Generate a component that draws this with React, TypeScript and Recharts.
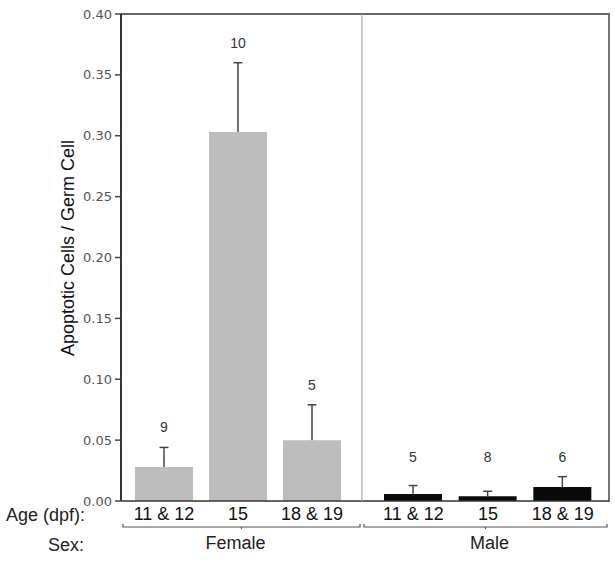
import { BarChart, Bar, XAxis, YAxis, LabelList } from 'recharts';

const ages = ['11 & 12', '15', '18 & 19'];
const femaleMean = [0.028, 0.303, 0.05];
const femaleErr = [0.016, 0.057, 0.029];
const femaleN = [9, 10, 5];
const maleMean = [0.0057, 0.004, 0.0115];
const maleErr = [0.007, 0.004, 0.0085];
const maleN = [5, 8, 6];
const yTicks = [0, 0.05, 0.1, 0.15, 0.2, 0.25, 0.3, 0.35, 0.4];

const FONT = '"Liberation Sans", Arial, sans-serif';
const W = 615;
const H = 562;
const TOP = 14;
const X_AXIS_H = 61;
const PLOT_BOTTOM = H - X_AXIS_H;
const PLOT_LEFT = 121;
const SPLIT = 361;
const RIGHT_MARGIN = 6;
const PLOT_RIGHT = W - RIGHT_MARGIN;

const female = ages.map((a, i) => ({ age: a, mean: femaleMean[i], err: femaleErr[i], n: femaleN[i] }));
const male = ages.map((a, i) => ({ age: a, mean: maleMean[i], err: maleErr[i], n: maleN[i] }));

// whisker drawn on top of the mean bar (upper half only)
const ErrShape = (p: any) => {
  const { x, y, width, height } = p;
  const cx = x + width / 2;
  return (
    <g>
      <line x1={cx} x2={cx} y1={y + height} y2={y} stroke="#444" strokeWidth={1.5} />
      <line x1={cx - 4.5} x2={cx + 4.5} y1={y} y2={y} stroke="#444" strokeWidth={1.5} />
    </g>
  );
};

const CountLabel = (p: any) => {
  const { x, y, width, value } = p;
  const by = Math.min(y - 15, PLOT_BOTTOM - 39);
  return (
    <text x={x + width / 2} y={by} textAnchor="middle" fontSize={14} fontFamily={FONT} fill="#333">
      {value}
    </text>
  );
};

const groupLabel = (name: string, shift: number, titles: boolean) => (props: any) => {
  const vb = props.viewBox || {};
  const x1 = vb.x + 2;
  const x2 = vb.x + vb.width - 2;
  const by = PLOT_BOTTOM + 26;
  const mid = (x1 + x2) / 2;
  return (
    <g>
      <path
        d={`M${x1},${by - 3} L${x1},${by} L${x2},${by} L${x2},${by - 3}`}
        fill="none"
        stroke="#555"
        strokeWidth={1.2}
      />
      <line x1={mid} x2={mid} y1={by} y2={by + 2} stroke="#555" strokeWidth={1.2} />
      <text x={mid + shift} y={PLOT_BOTTOM + 48} textAnchor="middle" fontSize={18} fontFamily={FONT} fill="#222">
        {name}
      </text>
      {titles && (
        <>
          <text x={85} y={PLOT_BOTTOM + 20} textAnchor="end" fontSize={18} fontFamily={FONT} fill="#222">
            Age (dpf):
          </text>
          <text x={84} y={PLOT_BOTTOM + 50} textAnchor="end" fontSize={18} fontFamily={FONT} fill="#222">
            Sex:
          </text>
        </>
      )}
    </g>
  );
};

const yLabel = () => (
  <text transform={`translate(74,248) rotate(-90)`} textAnchor="middle" fontSize={18} fontFamily={FONT} fill="#111">
    Apoptotic Cells / Germ Cell
  </text>
);

const xTick = { fontSize: 18, fontFamily: FONT, fill: '#111' };

export default function App() {
  return (
    <div style={{ position: 'absolute', left: 0, top: 0, width: W, height: H, background: '#fff' }}>
      {/* frame: top edge and right edge of the plot area */}
      <div
        style={{
          position: 'absolute',
          left: PLOT_LEFT,
          top: TOP - 1,
          width: PLOT_RIGHT - PLOT_LEFT - 1,
          height: PLOT_BOTTOM - TOP,
          borderTop: '2px solid #666',
          borderRight: '2px solid #777',
          boxSizing: 'content-box',
        }}
      />
      <div style={{ position: 'absolute', left: 0, top: 0 }}>
        <BarChart width={SPLIT + 1} height={H} data={female} margin={{ top: TOP, right: 0, bottom: 0, left: 0 }}>
          <XAxis
            dataKey="age"
            height={X_AXIS_H}
            padding={{ left: 6, right: 13 }}
            tickLine={false}
            tickSize={6}
            tickMargin={0}
            tick={xTick}
            axisLine={{ stroke: '#333', strokeWidth: 1.5 }}
            label={groupLabel('Female', -6, true)}
          />
          <YAxis
            width={PLOT_LEFT}
            domain={[0, 0.4]}
            ticks={yTicks}
            interval={0}
            tickFormatter={(v: number) => v.toFixed(2)}
            tick={{ fontSize: 13, fontFamily: '"DejaVu Sans", sans-serif', fill: '#555' }}
            tickLine={{ stroke: '#444', strokeWidth: 1.5 }}
            tickSize={6}
            tickMargin={3}
            axisLine={{ stroke: '#333', strokeWidth: 2 }}
            label={yLabel}
          />
          <Bar dataKey="mean" stackId="s" fill="#bdbdbd" barSize={58} isAnimationActive={false} />
          <Bar dataKey="err" stackId="s" barSize={58} shape={ErrShape} isAnimationActive={false}>
            <LabelList dataKey="n" content={CountLabel} />
          </Bar>
        </BarChart>
      </div>
      <div style={{ position: 'absolute', left: SPLIT, top: 0 }}>
        <BarChart width={W - SPLIT} height={H} data={male} margin={{ top: TOP, right: RIGHT_MARGIN, bottom: 0, left: 0 }}>
          <XAxis
            dataKey="age"
            height={X_AXIS_H}
            padding={{ left: 14, right: 9 }}
            tickLine={false}
            tickSize={6}
            tickMargin={0}
            tick={xTick}
            axisLine={{ stroke: '#333', strokeWidth: 1.5 }}
            label={groupLabel('Male', 4, false)}
          />
          <YAxis
            width={1}
            domain={[0, 0.4]}
            ticks={yTicks}
            tick={false}
            tickLine={false}
            axisLine={{ stroke: '#aaa', strokeWidth: 1.2 }}
          />
          <Bar dataKey="mean" stackId="s" fill="#0a0a0a" barSize={58} isAnimationActive={false} />
          <Bar dataKey="err" stackId="s" barSize={58} shape={ErrShape} isAnimationActive={false}>
            <LabelList dataKey="n" content={CountLabel} />
          </Bar>
        </BarChart>
      </div>
    </div>
  );
}
